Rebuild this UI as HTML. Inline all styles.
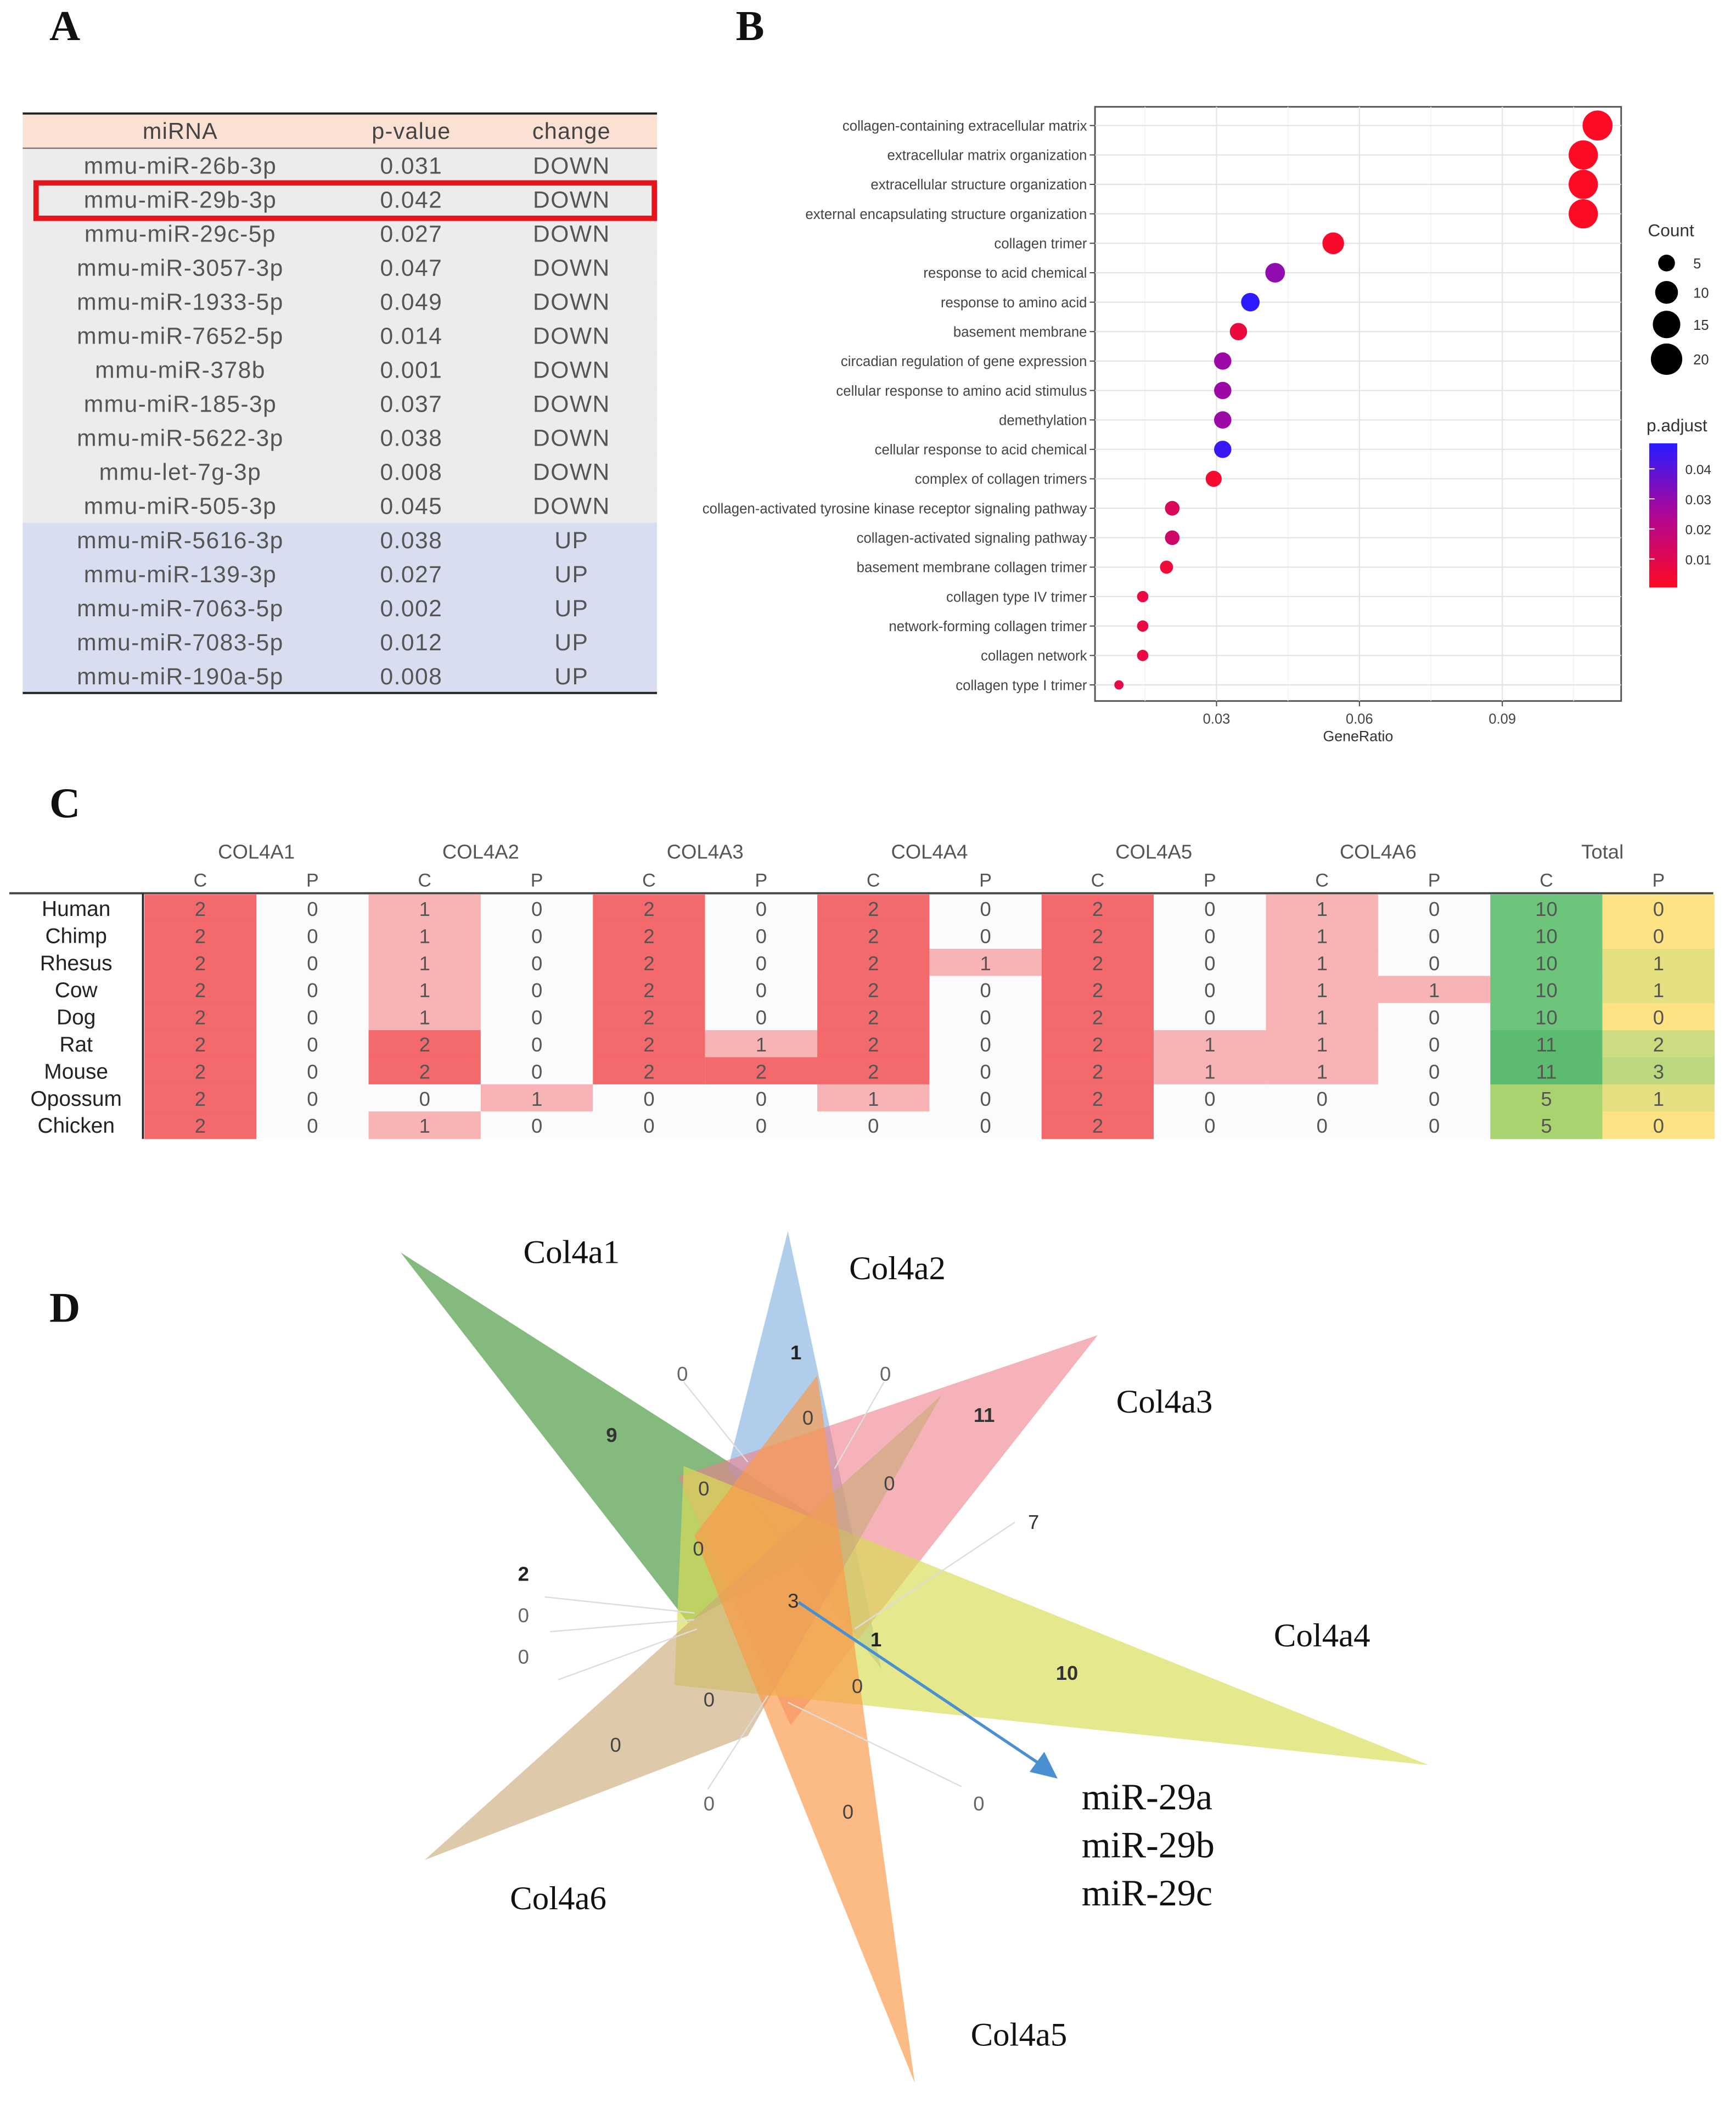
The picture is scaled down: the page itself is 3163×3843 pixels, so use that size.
<!DOCTYPE html>
<html><head><meta charset="utf-8"><style>
html,body{margin:0;padding:0;background:#fff;}
svg{display:block;}
</style></head><body>
<svg id="fig" xmlns="http://www.w3.org/2000/svg" width="3163" height="3843" viewBox="0 0 1300 1579.5" preserveAspectRatio="none">
<rect x="0" y="0" width="1300" height="1580" fill="#fff"/>
<g font-family="Liberation Serif, serif" font-weight="bold" font-size="32" fill="#111">
<text x="37" y="30">A</text>
<text x="551" y="30">B</text>
<text x="37" y="612">C</text>
<text x="37" y="990">D</text>
</g>
<g id="tableA"></g>
<g id="dotB"></g>
<g id="heatC"></g>
<g id="vennD"></g>
</svg>
<script>
const NS="http://www.w3.org/2000/svg";
function mk(parent,tag,attrs,text){const e=document.createElementNS(NS,tag);for(const k in attrs)e.setAttribute(k,attrs[k]);if(text!==undefined)e.textContent=text;parent.appendChild(e);return e;}

// ---------- Panel A data ----------
const mirnaNames=["mmu-miR-26b-3p","mmu-miR-29b-3p","mmu-miR-29c-5p","mmu-miR-3057-3p","mmu-miR-1933-5p","mmu-miR-7652-5p","mmu-miR-378b","mmu-miR-185-3p","mmu-miR-5622-3p","mmu-let-7g-3p","mmu-miR-505-3p","mmu-miR-5616-3p","mmu-miR-139-3p","mmu-miR-7063-5p","mmu-miR-7083-5p","mmu-miR-190a-5p"];
const mirnaP=["0.031","0.042","0.027","0.047","0.049","0.014","0.001","0.037","0.038","0.008","0.045","0.038","0.027","0.002","0.012","0.008"];
const mirnaChange=["DOWN","DOWN","DOWN","DOWN","DOWN","DOWN","DOWN","DOWN","DOWN","DOWN","DOWN","UP","UP","UP","UP","UP"];

(function(){
const g=document.getElementById('tableA');
const x0=17,x1=492,top=85,hh=26,rh=25.5;
let r=mk(g,'rect',{x:x0,y:top,width:x1-x0,height:hh,fill:'#fbe1d3'});


const hdr=[["miRNA",135],["p-value",308],["change",428]];
hdr.forEach(h=>{const t=mk(g,'text',{x:h[1],y:top+19,'text-anchor':'middle','font-family':'Liberation Sans, sans-serif','font-size':17,fill:'#444','letter-spacing':'0.5'},h[0]);

});
mirnaNames.forEach((n,i)=>{
  const y=top+hh+i*rh;
  const bg=mk(g,'rect',{x:x0,y:y,width:x1-x0,height:rh+0.5,fill:mirnaChange[i]==='UP'?'#d8def0':'#ececec'});
  
  
  const cols=[[n,135],[mirnaP[i],308],[mirnaChange[i],428]];
  cols.forEach(c=>{const t=mk(g,'text',{x:c[1],y:y+19,'text-anchor':'middle','font-family':'Liberation Sans, sans-serif','font-size':17.5,fill:'#555','letter-spacing':'0.6'},c[0]);
  
  });
});
const bottom=top+hh+mirnaNames.length*rh;
let l=mk(g,'line',{x1:x0,x2:x1,y1:top,y2:top,stroke:'#222','stroke-width':1.6});


l=mk(g,'line',{x1:x0,x2:x1,y1:top+hh,y2:top+hh,stroke:'#777','stroke-width':1});


l=mk(g,'line',{x1:x0,x2:x1,y1:bottom,y2:bottom,stroke:'#222','stroke-width':1.6});


const hb=mk(g,'rect',{x:27,y:top+hh+rh+0.5,width:463,height:rh+1,fill:'none',stroke:'#e8141b','stroke-width':4});


})();

// ---------- Panel B data ----------
const goTerms=["collagen-containing extracellular matrix","extracellular matrix organization","extracellular structure organization","external encapsulating structure organization","collagen trimer","response to acid chemical","response to amino acid","basement membrane","circadian regulation of gene expression","cellular response to amino acid stimulus","demethylation","cellular response to acid chemical","complex of collagen trimers","collagen-activated tyrosine kinase receptor signaling pathway","collagen-activated signaling pathway","basement membrane collagen trimer","collagen type IV trimer","network-forming collagen trimer","collagen network","collagen type I trimer"];
const geneRatio=[0.110,0.107,0.107,0.107,0.0545,0.0423,0.0371,0.0346,0.0313,0.0313,0.0313,0.0313,0.0294,0.0207,0.0207,0.0195,0.0145,0.0145,0.0145,0.0095];
const goCount=[21,20,20,20,11,9,8,7,7,7,7,7,6,5,5,4,3,3,3,2];
const goPadj=[0.001,0.001,0.001,0.001,0.002,0.03,0.048,0.006,0.028,0.028,0.028,0.046,0.003,0.012,0.015,0.005,0.007,0.007,0.007,0.008];
const xTicks=[0.03,0.06,0.09];
const countLegend=[5,10,15,20];
const padjTicks=[0.01,0.02,0.03,0.04];

(function(){
const g=document.getElementById('dotB');
const L=820,R=1214,T=80,B=525;
const xS=v=>911+(v-0.03)/0.03*107;
const yS=i=>94+i*22.05;
const rS=c=>Math.sqrt(c)*2.45;
const stops=[[255,10,35],[176,6,150],[42,27,255]];
const col=p=>{let t=Math.max(0,Math.min(1,(p-0.0005)/0.048));let a,b,u;if(t<0.5){a=stops[0];b=stops[1];u=t*2;}else{a=stops[1];b=stops[2];u=(t-0.5)*2;}
 return `rgb(${Math.round(a[0]+(b[0]-a[0])*u)},${Math.round(a[1]+(b[1]-a[1])*u)},${Math.round(a[2]+(b[2]-a[2])*u)})`;};
let bg=mk(g,'rect',{x:L,y:T,width:R-L,height:B-T,fill:'#fff',stroke:'#555','stroke-width':1.2});


[0.015,0.045,0.075,0.105].forEach(v=>{const l=mk(g,'line',{x1:xS(v),x2:xS(v),y1:T,y2:B,stroke:'#f2f2f2','stroke-width':0.6});

});
xTicks.forEach(v=>{const l=mk(g,'line',{x1:xS(v),x2:xS(v),y1:T,y2:B,stroke:'#e3e3e3','stroke-width':0.9});


const tk=mk(g,'line',{x1:xS(v),x2:xS(v),y1:B,y2:B+4,stroke:'#444','stroke-width':0.8});


const t=mk(g,'text',{x:xS(v),y:B+17,'text-anchor':'middle','font-family':'Liberation Sans, sans-serif','font-size':10.5,fill:'#444'},v.toFixed(2));

});
goTerms.forEach((term,i)=>{
 const y=yS(i);
 const gl=mk(g,'line',{x1:L,x2:R,y1:y,y2:y,stroke:'#e3e3e3','stroke-width':0.9});
 
 
 const tk=mk(g,'line',{x1:L-4,x2:L,y1:y,y2:y,stroke:'#444','stroke-width':0.8});
 
 
 const t=mk(g,'text',{x:L-6,y:y+3.8,'text-anchor':'end','font-family':'Liberation Sans, sans-serif','font-size':10.6,fill:'#444'},term);
 
 
});
goTerms.forEach((term,i)=>{
 const c=mk(g,'circle',{cx:xS(geneRatio[i]),cy:yS(i),r:rS(goCount[i]),fill:col(goPadj[i])});
 
 
});
const xt=mk(g,'text',{x:1017,y:B+30,'text-anchor':'middle','font-family':'Liberation Sans, sans-serif','font-size':11,fill:'#333'},'GeneRatio');


let lt=mk(g,'text',{x:1234,y:177,'font-family':'Liberation Sans, sans-serif','font-size':13,fill:'#333'},'Count');


countLegend.forEach((c,i)=>{const y=[197,219,243,269][i];
 const d=mk(g,'circle',{cx:1248,cy:y,r:rS(c)+0.8,fill:'#000'});
 
 
 const t=mk(g,'text',{x:1268,y:y+4,'font-family':'Liberation Sans, sans-serif','font-size':10.5,fill:'#333'},String(c));
 
 });
lt=mk(g,'text',{x:1233,y:323,'font-family':'Liberation Sans, sans-serif','font-size':13,fill:'#333'},'p.adjust');


const defs=mk(g,'defs',{});
const grad=mk(defs,'linearGradient',{id:'pg',x1:0,y1:1,x2:0,y2:0});
mk(grad,'stop',{offset:'0','stop-color':'#ff0a23'});
mk(grad,'stop',{offset:'0.5','stop-color':'#b00696'});
mk(grad,'stop',{offset:'1','stop-color':'#2a1bff'});
const cb=mk(g,'rect',{x:1235,y:332,width:21,height:108,fill:'url(#pg)'});


padjTicks.forEach(v=>{const y=440-(v-0.0005)/0.048*108;
 const t=mk(g,'text',{x:1262,y:y+4,'font-family':'Liberation Sans, sans-serif','font-size':10,fill:'#333'},v.toFixed(2));
 
 
 const tk=mk(g,'line',{x1:1235,x2:1239,y1:y,y2:y,stroke:'#fff','stroke-width':0.8});
 
 });
})();

// ---------- Panel C data ----------
const species=["Human","Chimp","Rhesus","Cow","Dog","Rat","Mouse","Opossum","Chicken"];
const genes=["COL4A1","COL4A2","COL4A3","COL4A4","COL4A5","COL4A6","Total"];
const consC=[[2,1,2,2,2,1,10],[2,1,2,2,2,1,10],[2,1,2,2,2,1,10],[2,1,2,2,2,1,10],[2,1,2,2,2,1,10],[2,2,2,2,2,1,11],[2,2,2,2,2,1,11],[2,0,0,1,2,0,5],[2,1,0,0,2,0,5]];
const consP=[[0,0,0,0,0,0,0],[0,0,0,0,0,0,0],[0,0,0,1,0,0,1],[0,0,0,0,0,1,1],[0,0,0,0,0,0,0],[0,0,1,0,1,0,2],[0,0,2,0,1,0,3],[0,1,0,0,0,0,1],[0,0,0,0,0,0,0]];

(function(){
const g=document.getElementById('heatC');
const x0=108,cw=84,y0=670,rh=20.3;
const redC=v=>v>=2?'#f4696c':(v==1?'#f8b3b5':'#fbfbfe');
const totC=v=>v>=11?'#5cbb6e':(v>=10?'#6dc47b':'#a9d36f');
const totP=v=>['#fde383','#e4e082','#cddc80','#bcd97f'][Math.min(v,3)];
genes.forEach((gn,j)=>{
 const cx=x0+j*2*cw;
 const t=mk(g,'text',{x:cx+cw,y:643,'text-anchor':'middle','font-family':'Liberation Sans, sans-serif','font-size':15,fill:'#555'},gn);
 
 
 ['C','P'].forEach((s,k)=>{const u=mk(g,'text',{x:cx+cw/2+k*cw,y:664,'text-anchor':'middle','font-family':'Liberation Sans, sans-serif','font-size':14,fill:'#555'},s);
 
 });
});
species.forEach((sp,i)=>{
 const y=y0+i*rh;
 const t=mk(g,'text',{x:57,y:y+16,'text-anchor':'middle','font-family':'Liberation Sans, sans-serif','font-size':16,fill:'#222'},sp);
 
 
 genes.forEach((gn,j)=>{
  const cx=x0+j*2*cw;
  const last=j===genes.length-1;
  const cC=mk(g,'rect',{x:cx,y:y,width:cw,height:rh+0.4,fill:last?totC(consC[i][j]):redC(consC[i][j])});
  
  
  const cP=mk(g,'rect',{x:cx+cw,y:y,width:cw,height:rh+0.4,fill:last?totP(consP[i][j]):redC(consP[i][j])});
  
  
  const a=mk(g,'text',{x:cx+cw/2,y:y+16,'text-anchor':'middle','font-family':'Liberation Sans, sans-serif','font-size':15,fill:'#555'},String(consC[i][j]));
  
  
  const b=mk(g,'text',{x:cx+cw*1.5,y:y+16,'text-anchor':'middle','font-family':'Liberation Sans, sans-serif','font-size':15,fill:'#555'},String(consP[i][j]));
  
  
 });
});
let l=mk(g,'line',{x1:7,x2:1283,y1:669,y2:669,stroke:'#444','stroke-width':1.6});


l=mk(g,'line',{x1:107,x2:107,y1:669,y2:853,stroke:'#222','stroke-width':1.4});


})();

// ---------- Panel D ----------
(function(){
const g=document.getElementById('vennD');
const tris=[
 ['col4a1-set','#4a993f',0.68,'300,938 632,1150 515,1215'],
 ['col4a2-set','#7fb0e0',0.62,'590,922 545,1100 660,1250'],
 ['col4a3-set','#ee7e8a',0.6,'822,1000 508,1106 592,1292'],
 ['col4a4-set','#d9dd55',0.68,'1070,1322 512,1098 505,1262'],
 ['col4a6-set','#c9a878',0.62,'318,1393 705,1045 560,1300'],
 ['col4a5-set','#fb9a4a',0.68,'685,1560 612,1030 520,1150']
];
tris.forEach(t=>{const p=mk(g,'polygon',{points:t[3],fill:t[1],'fill-opacity':t[2]});

});
const leaders=[[512,1035,560,1095],[662,1035,625,1100],[760,1140,640,1220],[408,1196,520,1208],[412,1222,520,1213],[418,1258,522,1220],[530,1340,575,1270],[720,1338,590,1275]];
leaders.forEach(a=>{const l=mk(g,'line',{x1:a[0],y1:a[1],x2:a[2],y2:a[3],stroke:'#ddd','stroke-width':1});

});
const labels=[["Col4a1",428,946],["Col4a2",672,958],["Col4a3",872,1058],["Col4a4",990,1233],["Col4a6",418,1430],["Col4a5",763,1532]];
labels.forEach(l=>{const t=mk(g,'text',{x:l[1],y:l[2],'text-anchor':'middle','font-family':'Liberation Serif, serif','font-size':25,fill:'#111'},l[0]);

});
const nums=[["1",596,1018,'bold','#222'],["0",511,1034,'normal','#666'],["0",663,1034,'normal','#666'],["9",458,1080,'bold','#333'],["0",605,1067,'normal','#444'],["11",737,1065,'bold','#333'],["0",527,1120,'normal','#444'],["0",666,1116,'normal','#444'],["0",523,1165,'normal','#444'],["7",774,1145,'normal','#333'],["2",392,1184,'bold','#222'],["0",392,1215,'normal','#666'],["0",392,1246,'normal','#666'],["3",594,1204,'normal','#333'],["1",656,1233,'bold','#222'],["10",799,1258,'bold','#333'],["0",642,1268,'normal','#444'],["0",531,1278,'normal','#444'],["0",461,1312,'normal','#444'],["0",531,1356,'normal','#666'],["0",635,1362,'normal','#444'],["0",733,1356,'normal','#666']];
nums.forEach(n=>{const t=mk(g,'text',{x:n[1],y:n[2],'text-anchor':'middle','font-family':'Liberation Sans, sans-serif','font-size':15,'font-weight':n[3],fill:n[4]},n[0]);

});
const ar=mk(g,'line',{x1:598,y1:1200,x2:780,y2:1322,stroke:'#4a8fd0','stroke-width':2.2});


const ah=mk(g,'polygon',{points:'792,1332 771,1327 782,1312',fill:'#4a8fd0'});


["miR-29a","miR-29b","miR-29c"].forEach((s,i)=>{const t=mk(g,'text',{x:810,y:1355+i*36,'font-family':'Liberation Serif, serif','font-size':28,fill:'#111'},s);

});
})();
</script>
</body></html>
